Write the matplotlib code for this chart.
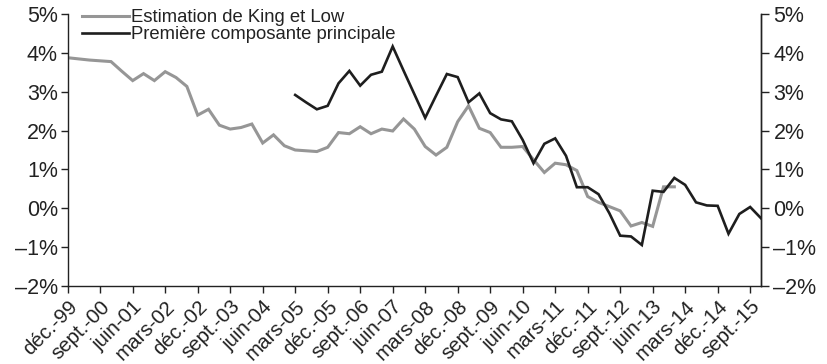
import matplotlib
matplotlib.use("Agg")
import matplotlib.pyplot as plt
import numpy as np

plt.rcParams['font.family'] = ['Liberation Sans', 'DejaVu Sans']

# Quarterly data, déc.-99 (q0) to déc.-15 (q64)
king_low = [3.88, 3.85, 3.82, 3.80, 3.78, 3.53, 3.29, 3.47, 3.29, 3.52,
            3.37, 3.14, 2.40, 2.55, 2.14, 2.04, 2.08, 2.17, 1.68, 1.89,
            1.61, 1.50, 1.48, 1.46, 1.57, 1.95, 1.92, 2.10, 1.92, 2.04,
            1.99, 2.30, 2.04, 1.59, 1.37, 1.57, 2.23, 2.64, 2.06, 1.95,
            1.57, 1.57, 1.59, 1.25, 0.92, 1.16, 1.12, 0.97, 0.30, 0.15,
            0.04, -0.07, -0.46, -0.37, -0.47, 0.55, 0.55]
acp_start = 21
acp = [2.92, 2.73, 2.55, 2.64, 3.22, 3.54, 3.16, 3.44, 3.52, 4.17,
       3.55, 2.94, 2.33, 2.90, 3.46, 3.38, 2.73, 2.96, 2.45, 2.29,
       2.24, 1.76, 1.16, 1.66, 1.80, 1.35, 0.54, 0.54, 0.36, -0.13,
       -0.71, -0.73, -0.95, 0.45, 0.42, 0.78, 0.60, 0.15, 0.07, 0.06,
       -0.66, -0.15, 0.03, -0.26]
tick_labels = ['déc.-99', 'sept.-00', 'juin-01', 'mars-02', 'déc.-02', 'sept.-03',
               'juin-04', 'mars-05', 'déc.-05', 'sept.-06', 'juin-07', 'mars-08',
               'déc.-08', 'sept.-09', 'juin-10', 'mars-11', 'déc.-11', 'sept.-12',
               'juin-13', 'mars-14', 'déc.-14', 'sept.-15']
series_names = ['Estimation de King et Low', 'Première composante principale']
y_ticks = [-2, -1, 0, 1, 2, 3, 4, 5]

# x in months since déc.-99
x_kl = np.arange(len(king_low)) * 3
x_acp = (np.arange(len(acp)) + acp_start) * 3

fig = plt.figure(figsize=(8.27, 3.64), dpi=100)
ax = fig.add_axes([67.7/827, 1-285.7/364, (761-67.7)/827, (285.7-14.3)/364])

ax.plot(x_kl, king_low, color='#969696', lw=2.2, label=series_names[0], solid_joinstyle='miter')
ax.plot(x_acp, acp, color='#1e1e1e', lw=1.9, label=series_names[1], solid_joinstyle='miter')

ax.set_xlim(0, 192)
ax.set_ylim(-2, 5)
ax.set_xticks(np.arange(len(tick_labels)) * 9)
ax.set_xticklabels(tick_labels, rotation=45, ha='right', rotation_mode='anchor', fontsize=14.8)
ylab = [('\u2013' if v < 0 else '') + f'{abs(v)}%' for v in y_ticks]
ax.set_yticks(y_ticks)
ax.set_yticklabels(ylab, fontsize=15.5)

for s in ['top']:
    ax.spines[s].set_visible(False)
for s in ['left', 'bottom', 'right']:
    ax.spines[s].set_linewidth(1.0)
    ax.spines[s].set_color('#222222')
ax.tick_params(axis='both', direction='out', length=5, width=1.0, color='#222222', labelcolor='#222222')
ax.tick_params(axis='y', pad=2)
ax.tick_params(axis='x', pad=3)

ax2 = ax.twinx()
ax2.set_ylim(-2, 5)
ax2.set_yticks(y_ticks)
ax2.set_yticklabels(ylab, fontsize=15.5)
ax2.spines['top'].set_visible(False)
ax2.spines['left'].set_visible(False)
ax2.spines['bottom'].set_visible(False)
ax2.spines['right'].set_linewidth(1.0)
ax2.spines['right'].set_color('#222222')
ax2.tick_params(axis='y', direction='out', length=6, width=1.0, color='#222222', labelcolor='#222222', pad=3)

leg = ax.legend(loc='upper left', bbox_to_anchor=(81.5/827, 1 - 9/364), bbox_transform=fig.transFigure,
                frameon=False, fontsize=13.3, handlelength=2.55, handletextpad=0.15,
                borderpad=0, borderaxespad=0, labelspacing=0.0)
for t in leg.get_texts():
    t.set_color('#222222')

fig.savefig('out.png', dpi=100)
